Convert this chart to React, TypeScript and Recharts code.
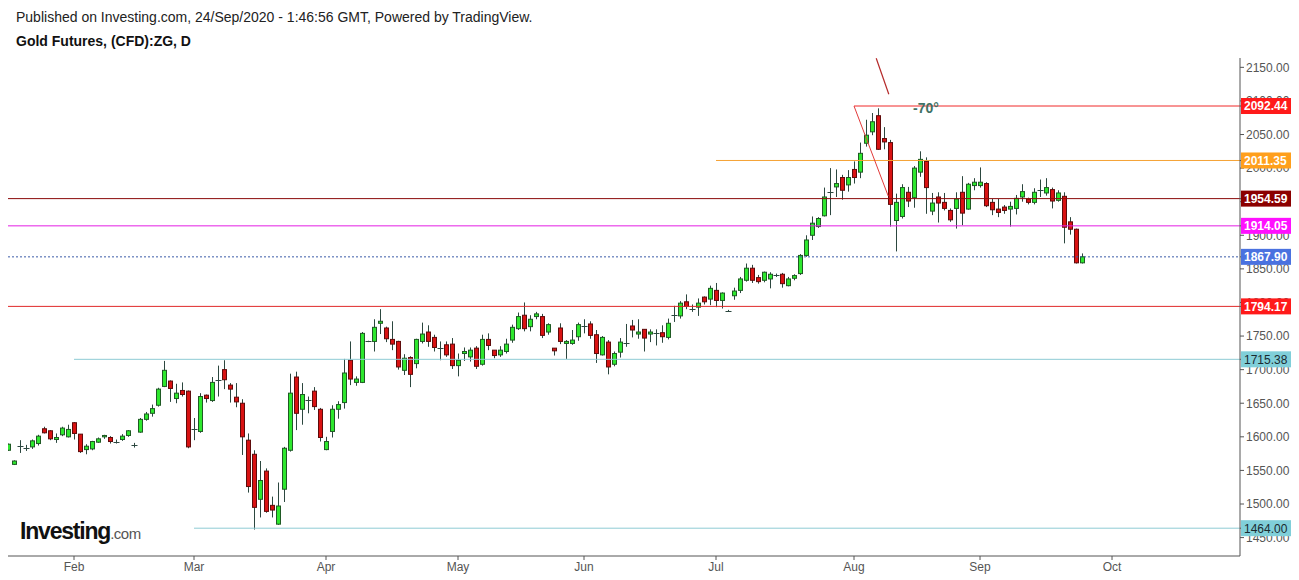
import React from 'react';
import { ComposedChart, Bar, XAxis, YAxis, ReferenceLine, ReferenceDot } from 'recharts';

// daily candles, 17 Jan 2020 .. 24 Sep 2020 (one entry per weekday)
const OPEN = [
  1580, 1559, 1586, 1584, 1585, 1590, 1612, 1609, 1596, 1603,
  1600, 1621, 1604, 1581, 1582, 1592, 1600, 1599, 1593, 1596,
  1602, 1588, 1607, 1626, 1635, 1647, 1675, 1683, 1657, 1669,
  1668, 1611, 1608, 1662, 1654, 1684, 1700, 1677, 1659, 1650,
  1595, 1574, 1507, 1549, 1498, 1470, 1522, 1580, 1689, 1641,
  1655, 1668, 1641, 1581, 1608, 1641, 1651, 1714, 1681, 1681,
  1742, 1742, 1769, 1762, 1745, 1742, 1699, 1718, 1709, 1742,
  1756, 1748, 1732, 1737, 1738, 1706, 1724, 1719, 1732, 1708,
  1745, 1729, 1722, 1727, 1744, 1761, 1781, 1764, 1779, 1779,
  1756, 1732, 1762, 1739, 1739, 1749, 1765, 1768, 1752, 1722,
  1741, 1708, 1726, 1740, 1765, 1753, 1760, 1753, 1754, 1755,
  1748, 1782, 1780, 1801, 1790, 1793, 1808, 1805, 1818, 1803,
  1788, 1810, 1818, 1833, 1851, 1837, 1833, 1835, 1841, 1842,
  1825, 1836, 1843, 1870, 1900, 1913, 1929, 1964, 1972, 1986,
  1975, 1998, 1994, 2037, 2054, 2078, 2044, 2038, 1922, 1928,
  1964, 1956, 1994, 2010, 1936, 1957, 1949, 1937, 1940, 1964,
  1939, 1974, 1974, 1977, 1949, 1939, 1942, 1939, 1940, 1957,
  1954, 1949, 1967, 1963, 1968, 1952, 1958, 1920, 1909, 1859,
];
const HIGH = [
  1590, 1565, 1595, 1588, 1596, 1603, 1615, 1610, 1605, 1615,
  1618, 1622, 1604, 1589, 1594, 1599, 1603, 1601, 1596, 1604,
  1610, 1591, 1628, 1637, 1648, 1673, 1713, 1684, 1679, 1681,
  1669, 1628, 1665, 1663, 1689, 1706, 1714, 1680, 1680, 1656,
  1605, 1580, 1564, 1553, 1511, 1532, 1585, 1694, 1697, 1680,
  1660, 1674, 1643, 1600, 1647, 1653, 1716, 1742, 1690, 1756,
  1743, 1775, 1790, 1764, 1772, 1743, 1723, 1720, 1746, 1770,
  1766, 1752, 1742, 1742, 1747, 1724, 1733, 1733, 1735, 1752,
  1754, 1729, 1735, 1746, 1767, 1785, 1800, 1781, 1786, 1783,
  1769, 1732, 1769, 1744, 1759, 1770, 1775, 1772, 1759, 1750,
  1744, 1727, 1747, 1768, 1774, 1775, 1760, 1760, 1760, 1766,
  1776, 1795, 1802, 1812, 1797, 1806, 1809, 1825, 1829, 1815,
  1789, 1822, 1838, 1858, 1856, 1841, 1846, 1845, 1843, 1844,
  1838, 1842, 1872, 1900, 1928, 1927, 1971, 2000, 1998, 1990,
  1997, 2010, 2038, 2072, 2082, 2089, 2061, 2042, 1962, 1976,
  1972, 2003, 2025, 2016, 1963, 1964, 1963, 1940, 1964, 1988,
  1978, 1985, 2001, 1979, 1954, 1954, 1945, 1950, 1960, 1976,
  1956, 1970, 1983, 1985, 1971, 1967, 1964, 1927, 1910, 1873,
];
const LOW = [
  1579, 1558, 1576, 1579, 1582, 1587, 1605, 1595, 1591, 1601,
  1599, 1596, 1576, 1574, 1580, 1591, 1597, 1590, 1590, 1594,
  1600, 1584, 1606, 1624, 1630, 1645, 1674, 1652, 1650, 1660,
  1583, 1595, 1606, 1651, 1652, 1660, 1671, 1651, 1644, 1573,
  1517, 1462, 1480, 1487, 1480, 1469, 1503, 1578, 1610, 1618,
  1635, 1640, 1593, 1580, 1599, 1627, 1642, 1677, 1676, 1680,
  1741, 1727, 1753, 1741, 1729, 1700, 1692, 1674, 1702, 1739,
  1734, 1727, 1714, 1719, 1701, 1690, 1713, 1712, 1701, 1706,
  1729, 1717, 1719, 1724, 1740, 1759, 1757, 1757, 1775, 1747,
  1752, 1721, 1738, 1716, 1737, 1743, 1754, 1746, 1710, 1721,
  1693, 1705, 1718, 1734, 1748, 1746, 1727, 1741, 1736, 1740,
  1745, 1771, 1776, 1790, 1786, 1780, 1797, 1796, 1793, 1791,
  1787, 1804, 1814, 1831, 1829, 1828, 1830, 1821, 1838, 1822,
  1824, 1833, 1841, 1868, 1893, 1911, 1928, 1930, 1957, 1953,
  1965, 1977, 1985, 2032, 2049, 2027, 2028, 1913, 1876, 1925,
  1942, 1941, 1987, 1932, 1930, 1919, 1937, 1920, 1910, 1915,
  1938, 1967, 1971, 1942, 1930, 1927, 1932, 1913, 1931, 1950,
  1946, 1946, 1957, 1959, 1940, 1950, 1888, 1901, 1858, 1858,
];
const CLOSE = [
  1589, 1564, 1586, 1584, 1594, 1601, 1606, 1597, 1599, 1613,
  1611, 1605, 1578, 1586, 1593, 1597, 1602, 1593, 1593, 1601,
  1609, 1588, 1626, 1634, 1642, 1671, 1699, 1672, 1665, 1663,
  1585, 1611, 1660, 1657, 1681, 1684, 1685, 1671, 1652, 1600,
  1526, 1495, 1535, 1489, 1491, 1497, 1583, 1665, 1635, 1663,
  1655, 1645, 1599, 1593, 1641, 1648, 1695, 1686, 1686, 1754,
  1742, 1763, 1772, 1746, 1738, 1704, 1717, 1693, 1745, 1753,
  1742, 1733, 1732, 1722, 1706, 1714, 1727, 1729, 1705, 1745,
  1736, 1721, 1729, 1738, 1763, 1779, 1761, 1775, 1783, 1751,
  1767, 1728, 1742, 1742, 1744, 1767, 1765, 1751, 1724, 1748,
  1704, 1724, 1741, 1740, 1759, 1756, 1747, 1756, 1754, 1749,
  1769, 1782, 1799, 1794, 1790, 1799, 1801, 1821, 1803, 1814,
  1788, 1817, 1835, 1851, 1833, 1831, 1845, 1842, 1841, 1828,
  1835, 1840, 1870, 1893, 1918, 1925, 1957, 1964, 1977, 1967,
  1986, 1986, 2022, 2049, 2069, 2028, 2039, 1946, 1949, 1971,
  1951, 2000, 2013, 1971, 1948, 1948, 1940, 1923, 1954, 1933,
  1976, 1979, 1979, 1944, 1938, 1934, 1937, 1943, 1955, 1965,
  1949, 1964, 1967, 1971, 1951, 1963, 1912, 1909, 1859, 1868,
];

// first weekday of each month, as candle index
const MONTH_TICKS = [11, 31, 53, 75, 96, 118, 141, 162, 184];
const MONTH_LABELS = ['Feb', 'Mar', 'Apr', 'May', 'Jun', 'Jul', 'Aug', 'Sep', 'Oct'];
const PRICE_TICKS = [1450, 1500, 1550, 1600, 1650, 1700, 1750, 1800, 1850, 1900, 1950, 2000, 2050, 2100, 2150];

// horizontal levels drawn on the chart
const LEVELS = [2092.44, 2011.35, 1954.59, 1914.05, 1867.9, 1794.17, 1715.38, 1464.0];
const LEVEL_FROM = [141, 118, 0, 0, 0, 0, 11, 31];
const LEVEL_LINE = ['#f02828', '#f5a234', '#8b0a0a', '#e41ee4', '#3c5ca8', '#e02828', '#8ecbd4', '#8ecbd4'];
const LEVEL_BOX = ['#ff1a1a', '#ff9f1c', '#8b0000', '#ff10ff', '#4a72e0', '#ff1a1a', '#80cfd9', '#80cfd9'];
const LEVEL_TEXT = ['#fff', '#fff', '#fff', '#fff', '#fff', '#fff', '#1a2a30', '#1a2a30'];

// angle drawing near the August top
const ANGLE_LINE = [{ x: 141, y: 2092.44 }, { x: 146.7, y: 1958.5 }];
const MARKER_LINE = [{ x: 144.7, y: 2163.5 }, { x: 146.8, y: 2110 }];

const X_MAX = 205.33;
const Y_DOMAIN = [1422.6, 2163.9];
const FONT = "Arial, 'Liberation Sans', sans-serif";

const data = OPEN.map((o, i) => ({
  i,
  open: o,
  high: HIGH[i],
  low: LOW[i],
  close: CLOSE[i],
  range: [LOW[i], HIGH[i]],
}));

const Candle = (props: any) => {
  const { x, y, width, height, payload } = props;
  if (x == null || y == null) return null;
  const { open, close, high, low } = payload;
  const top = Math.min(y, y + height);
  const h = Math.abs(height);
  const k = high - low > 0 ? h / (high - low) : 0;
  const cx = Math.floor(x + width / 2) + 0.5;
  const bTop = top + (high - Math.max(open, close)) * k;
  const bBot = top + (high - Math.min(open, close)) * k;
  const up = close >= open;
  const wick = '#2c473f';
  if (open === close) {
    return (
      <g>
        <line x1={cx} x2={cx} y1={top} y2={top + h} stroke={wick} strokeWidth={1} />
        <line x1={cx - 3} x2={cx + 3} y1={Math.round(bTop) + 0.5} y2={Math.round(bTop) + 0.5} stroke={wick} strokeWidth={1} />
      </g>
    );
  }
  return (
    <g>
      <line x1={cx} x2={cx} y1={top} y2={top + h} stroke={wick} strokeWidth={1} />
      <rect
        x={cx - 2}
        y={bTop}
        width={4}
        height={Math.max(bBot - bTop, 1)}
        fill={up ? '#2ee82e' : '#d91212'}
        stroke={up ? '#1f5a24' : '#5e0b0b'}
        strokeWidth={1}
      />
    </g>
  );
};

// y-axis tick: plain price label, or a coloured tag for a drawn level
const PriceTick = (props: any) => {
  const { x, y, payload } = props;
  const v = payload.value;
  const n = LEVELS.indexOf(v);
  if (n < 0) {
    return (
      <text x={x} y={y} dy="0.36em" fill="#555" fontSize={12} fontFamily={FONT}>
        {v.toFixed(2)}
      </text>
    );
  }
  return (
    <g>
      <rect x={x - 5} y={y - 8} width={50} height={16} fill={LEVEL_BOX[n]} />
      <text
        x={x - 2}
        y={y}
        dy="0.36em"
        fill={LEVEL_TEXT[n]}
        fontSize={12}
        fontWeight={LEVEL_TEXT[n] === '#fff' ? 'bold' : 'normal'}
        fontFamily={FONT}
      >
        {v.toFixed(2)}
      </text>
    </g>
  );
};

export default function App() {
  return (
    <div
      style={{
        position: 'relative',
        width: 1299,
        height: 580,
        background: '#fff',
        overflow: 'hidden',
        fontFamily: FONT,
      }}
    >
      <style>{'body{margin:0;overflow:hidden}'}</style>
      <div style={{ position: 'absolute', left: 16, top: 9, fontSize: 14, color: '#222', whiteSpace: 'nowrap' }}>
        Published on Investing.com, 24/Sep/2020 - 1:46:56 GMT, Powered by TradingView.
      </div>
      <div style={{ position: 'absolute', left: 16, top: 33, fontSize: 14, fontWeight: 'bold', color: '#111', whiteSpace: 'nowrap' }}>
        Gold Futures, (CFD):ZG, D
      </div>

      <div style={{ position: 'absolute', left: 8, top: 0 }}>
        <ComposedChart width={1291} height={580} data={data} margin={{ top: 58, right: 0, left: 0, bottom: 0 }}>
          <XAxis
            dataKey="i"
            type="number"
            domain={[0, X_MAX]}
            allowDataOverflow
            ticks={MONTH_TICKS}
            interval={0}
            tickFormatter={(v: number) => MONTH_LABELS[MONTH_TICKS.indexOf(v)] ?? ''}
            height={24}
            tickSize={4}
            axisLine={{ stroke: '#555' }}
            tickLine={{ stroke: '#555' }}
            tick={{ fill: '#555', fontSize: 12, fontFamily: FONT }}
          />
          <YAxis
            orientation="right"
            type="number"
            domain={Y_DOMAIN}
            allowDataOverflow
            ticks={[...PRICE_TICKS, ...LEVELS]}
            interval={0}
            width={59}
            tickSize={4}
            tickMargin={2}
            axisLine={{ stroke: '#555' }}
            tickLine={{ stroke: '#555' }}
            tick={<PriceTick />}
          />
          <Bar dataKey="range" barSize={5} shape={<Candle />} isAnimationActive={false} />

          {LEVELS.map((lv, n) => (
            <ReferenceLine
              key={lv}
              segment={[{ x: LEVEL_FROM[n], y: lv }, { x: X_MAX, y: lv }]}
              stroke={LEVEL_LINE[n]}
              strokeWidth={1}
              strokeDasharray={n === 4 ? '2 2' : undefined}
            />
          ))}

          <ReferenceLine segment={ANGLE_LINE} stroke="#e23a3a" strokeWidth={1} />
          <ReferenceLine segment={MARKER_LINE} stroke="#b52a2a" strokeWidth={1.2} />
          <ReferenceDot
            x={153}
            y={2089}
            r={0}
            fill="none"
            stroke="none"
            label={{ value: '-70°', position: 'center', fill: '#3f7265', fontSize: 14, fontWeight: 'bold' }}
          />
        </ComposedChart>
      </div>

      <div style={{ position: 'absolute', left: 20, top: 518, whiteSpace: 'nowrap' }}>
        <span style={{ fontSize: 23, fontWeight: 'bold', color: '#111', letterSpacing: -1.2 }}>Investing</span>
        <span style={{ fontSize: 15, color: '#555', letterSpacing: -0.5 }}>.com</span>
      </div>
    </div>
  );
}
